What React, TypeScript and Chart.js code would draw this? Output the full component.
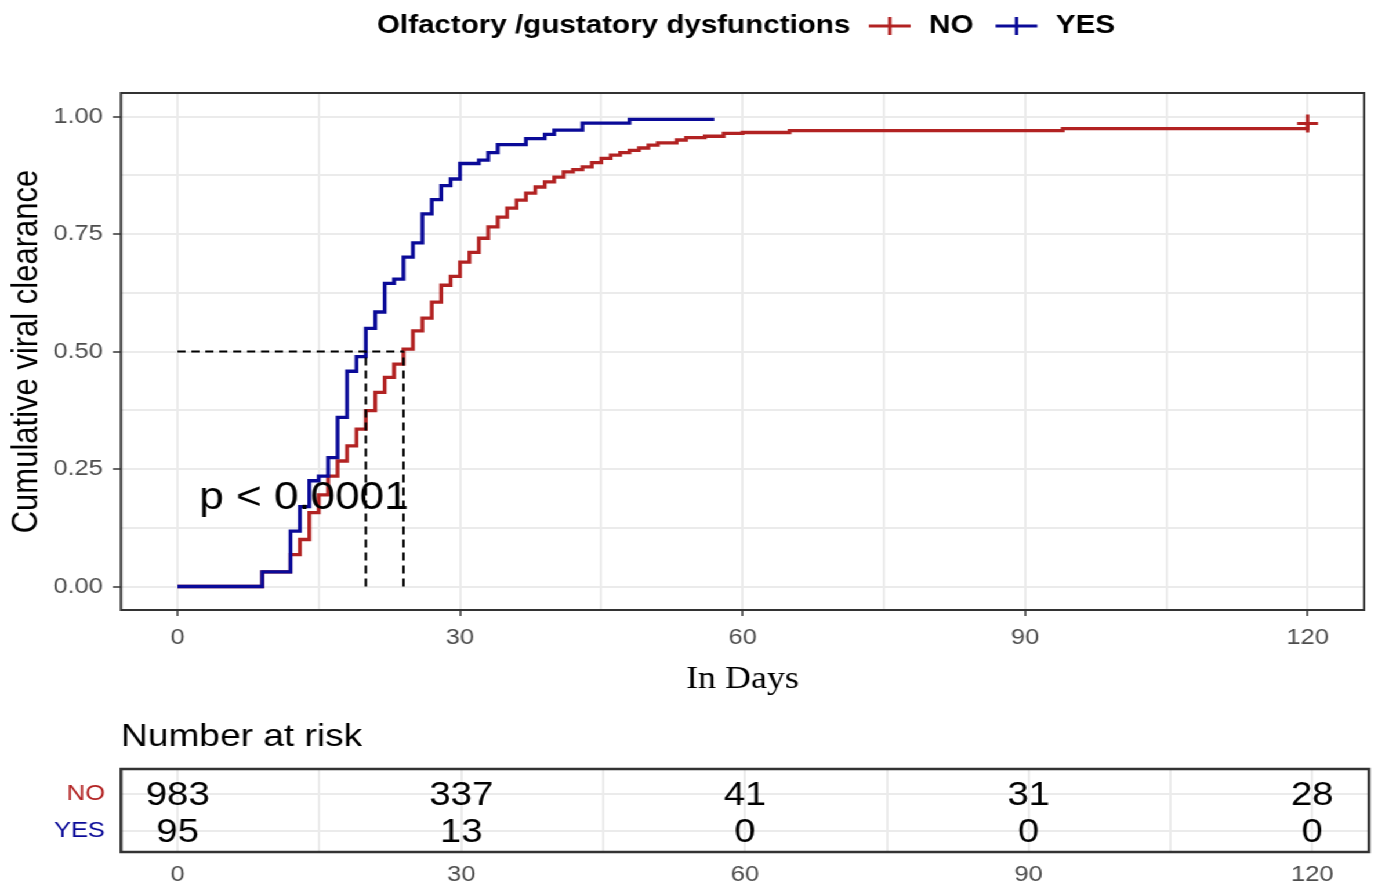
import React, { useEffect, useRef } from 'react';
import { Chart, registerables } from 'chart.js';

Chart.register(...registerables);

// ---------------- data ----------------
const legendTitle = 'Olfactory /gustatory dysfunctions';
const groups = ['NO', 'YES'];

const yesTimes = [0, 9, 12, 13, 14, 15, 16, 17, 18, 19, 20, 21, 22, 23, 24, 25, 26, 27, 28, 29, 30, 32, 33, 34, 37, 39, 40, 43, 48, 57];
const yesClearance = [0, 0.031, 0.118, 0.17, 0.225, 0.235, 0.274, 0.36, 0.458, 0.489, 0.549, 0.584, 0.645, 0.654, 0.701, 0.731, 0.793, 0.823, 0.853, 0.867, 0.9, 0.907, 0.923, 0.94, 0.953, 0.962, 0.971, 0.986, 0.994, 0.994];

const noTimes = [0, 9, 12, 13, 14, 15, 16, 17, 18, 19, 20, 21, 22, 23, 24, 25, 26, 27, 28, 29, 30, 31, 32, 33, 34, 35, 36, 37, 38, 39, 40, 41, 42, 43, 44, 45, 46, 47, 48, 49, 50, 51, 53, 54, 56, 58, 60, 65, 94, 120];
const noClearance = [0, 0.031, 0.068, 0.1, 0.157, 0.195, 0.235, 0.267, 0.299, 0.335, 0.374, 0.413, 0.445, 0.473, 0.505, 0.544, 0.571, 0.605, 0.641, 0.66, 0.69, 0.711, 0.741, 0.765, 0.786, 0.805, 0.822, 0.837, 0.85, 0.861, 0.871, 0.882, 0.887, 0.893, 0.902, 0.911, 0.918, 0.923, 0.928, 0.933, 0.939, 0.944, 0.95, 0.955, 0.958, 0.964, 0.966, 0.97, 0.974, 0.985];

const medianLevel = 0.5;
const medianYes = 20;
const medianNo = 24;

const xTickValues = [0, 30, 60, 90, 120];
const yTickValues = [0, 0.25, 0.5, 0.75, 1];

const riskTimes = [0, 30, 60, 90, 120];
const riskNo = [983, 337, 41, 31, 28];
const riskYes = [95, 13, 0, 0, 0];

const pValueText = 'p < 0.0001';

// ---------------- style ----------------
const RED = '#B22222';
const BLUE = '#0A0A98';
const GRID = '#EBEBEB';
const TICK_TXT = '#4D4D4D';
const SANS = '"Liberation Sans", Arial, sans-serif';
const SERIF = '"Liberation Serif", "Times New Roman", serif';
const PAGE_W = 1378;
const W = 1188;
const S = PAGE_W / W;
const AXIS_W = 104.3;
const RIGHT_PAD = W - 1180.2;

const isMajorX = (v: number) => xTickValues.some((t) => Math.abs(t - v) < 1e-6);
const isMajorY = (v: number) => yTickValues.some((t) => Math.abs(t - v) < 1e-6);
const pts = (t: number[], v: number[]) => t.map((x, i) => ({ x, y: v[i] }));

const mainPlugin = {
  id: 'mainDecor',
  afterDatasetsDraw(chart: any) {
    const { ctx, scales } = chart;
    ctx.save();
    ctx.font = `38px ${SANS}`;
    ctx.fillStyle = '#000';
    ctx.textBaseline = 'middle';
    ctx.textAlign = 'left';
    ctx.fillText(pValueText, scales.x.getPixelForValue(2.3), scales.y.getPixelForValue(0.188));
    ctx.restore();
  },
  afterDraw(chart: any) {
    const { ctx, chartArea } = chart;
    ctx.save();
    ctx.strokeStyle = '#333333';
    ctx.lineWidth = 2;
    ctx.strokeRect(chartArea.left, chartArea.top, chartArea.right - chartArea.left, chartArea.bottom - chartArea.top);

    // legend
    const y = 26;
    let x = 325;
    ctx.textBaseline = 'middle';
    ctx.textAlign = 'left';
    ctx.fillStyle = '#000';
    ctx.font = `bold 25.5px ${SANS}`;
    ctx.fillText(legendTitle, x, y);
    x += ctx.measureText(legendTitle).width + 16;
    const colors = [RED, BLUE];
    groups.forEach((g, i) => {
      ctx.strokeStyle = colors[i];
      ctx.lineWidth = 3;
      ctx.beginPath();
      ctx.moveTo(x, y);
      ctx.lineTo(x + 36, y);
      ctx.moveTo(x + 18, y - 9);
      ctx.lineTo(x + 18, y + 9);
      ctx.stroke();
      x += 36 + 16;
      ctx.fillStyle = '#000';
      ctx.fillText(g, x, y);
      x += ctx.measureText(g).width + 19;
    });
    ctx.restore();
  },
};

const riskPlugin = {
  id: 'riskDecor',
  afterDatasetsDraw(chart: any) {
    const { ctx, chartArea } = chart;
    ctx.save();
    ctx.font = `33px ${SANS}`;
    ctx.fillStyle = '#000';
    ctx.textAlign = 'center';
    ctx.textBaseline = 'middle';
    chart.data.datasets.forEach((ds: any, di: number) => {
      const meta = chart.getDatasetMeta(di);
      meta.data.forEach((el: any, j: number) => {
        ctx.fillText(String(ds.data[j].n), el.x, el.y + 2);
      });
    });
    ctx.strokeStyle = '#333333';
    ctx.lineWidth = 2.5;
    ctx.strokeRect(chartArea.left, chartArea.top, chartArea.right - chartArea.left, chartArea.bottom - chartArea.top);
    ctx.font = `32px ${SANS}`;
    ctx.textAlign = 'left';
    ctx.fillText('Number at risk', chartArea.left, 37);
    ctx.restore();
  },
};

export default function App() {
  const mainRef = useRef<HTMLCanvasElement | null>(null);
  const riskRef = useRef<HTMLCanvasElement | null>(null);

  useEffect(() => {
    const dash = (x1: number, y1: number, x2: number, y2: number, d: number[]) => ({
      label: 'median',
      data: [{ x: x1, y: y1 }, { x: x2, y: y2 }],
      borderColor: '#000',
      borderWidth: 2,
      borderDash: d,
      pointRadius: 0,
      fill: false,
      order: 0,
    });
    const main = new Chart(mainRef.current as HTMLCanvasElement, {
      type: 'line',
      data: {
        datasets: [
          dash(0, medianLevel, Math.max(medianYes, medianNo), medianLevel, [7, 5]),
          dash(medianYes, 0, medianYes, medianLevel, [8, 5]),
          dash(medianNo, 0, medianNo, medianLevel, [8, 5]),
          {
            label: 'YES',
            data: pts(yesTimes, yesClearance),
            stepped: true,
            borderColor: BLUE,
            borderWidth: 3.3,
            pointRadius: 0,
            fill: false,
            order: 1,
          },
          {
            label: 'NO',
            data: pts(noTimes, noClearance),
            stepped: true,
            borderColor: RED,
            borderWidth: 3.3,
            pointStyle: 'cross',
            pointRadius: (c: any) => (c.dataIndex === noTimes.length - 1 ? 9 : 0),
            pointBorderColor: RED,
            pointBorderWidth: 3,
            fill: false,
            order: 2,
          },
        ] as any,
      },
      options: {
        responsive: false,
        animation: false,
        devicePixelRatio: 1,
        layout: { padding: { top: 93, right: RIGHT_PAD, left: 0, bottom: 0 } },
        plugins: { legend: { display: false }, tooltip: { enabled: false }, title: { display: false } },
        events: [],
        scales: {
          x: {
            type: 'linear',
            min: -6,
            max: 126,
            border: { display: false },
            grid: {
              color: GRID,
              lineWidth: 2,
              tickLength: 6,
              tickWidth: 1.5,
              tickColor: (c: any) => (c.tick && isMajorX(c.tick.value) ? '#333333' : 'rgba(0,0,0,0)'),
            },
            ticks: {
              stepSize: 15,
              includeBounds: false,
              autoSkip: false,
              maxRotation: 0,
              padding: 9,
              color: TICK_TXT,
              font: { family: SANS, size: 22 },
              callback: (v: any) => (isMajorX(Number(v)) ? String(v) : ''),
            },
            title: {
              display: true,
              text: 'In Days',
              color: '#000',
              font: { family: SERIF, size: 31 },
              padding: { top: 0, bottom: 2 },
            },
            afterFit: (s: any) => {
              s.height = 90;
            },
          },
          y: {
            type: 'linear',
            min: -0.05,
            max: 1.05,
            border: { display: false },
            grid: {
              color: GRID,
              lineWidth: 2,
              tickLength: 7,
              tickWidth: 1.5,
              tickColor: (c: any) => (c.tick && isMajorY(c.tick.value) ? '#333333' : 'rgba(0,0,0,0)'),
            },
            ticks: {
              stepSize: 0.125,
              includeBounds: false,
              autoSkip: false,
              padding: 8.5,
              color: TICK_TXT,
              font: { family: SANS, size: 22 },
              callback: (v: any) => (isMajorY(Number(v)) ? Number(v).toFixed(2) : ''),
            },
            title: {
              display: true,
              text: 'Cumulative viral clearance',
              color: '#000',
              font: { family: SANS, size: 31 },
              padding: { top: 5, bottom: 0 },
            },
            afterFit: (s: any) => {
              s.width = AXIS_W;
            },
          },
        },
      } as any,
      plugins: [mainPlugin],
    });

    const counts = [riskNo, riskYes];
    const groupColors = [RED, BLUE];
    const risk = new Chart(riskRef.current as HTMLCanvasElement, {
      type: 'scatter',
      data: {
        datasets: groups.map((g, gi) => ({
          label: g,
          data: riskTimes.map((t, j) => ({ x: t, y: gi + 1, n: counts[gi][j] })),
          pointRadius: 0,
          showLine: false,
        })) as any,
      },
      options: {
        responsive: false,
        animation: false,
        devicePixelRatio: 1,
        layout: { padding: { top: 69, right: RIGHT_PAD, left: 0, bottom: 0 } },
        plugins: { legend: { display: false }, tooltip: { enabled: false } },
        events: [],
        scales: {
          x: {
            type: 'linear',
            min: -6,
            max: 126,
            border: { display: false },
            grid: { color: GRID, lineWidth: 2, drawTicks: false },
            ticks: {
              stepSize: 15,
              includeBounds: false,
              autoSkip: false,
              maxRotation: 0,
              padding: 10,
              color: TICK_TXT,
              font: { family: SANS, size: 22 },
              callback: (v: any) => (isMajorX(Number(v)) ? String(v) : ''),
            },
            afterFit: (s: any) => {
              s.height = 36;
            },
          },
          y: {
            type: 'linear',
            min: 0.35,
            max: 2.55,
            reverse: true,
            border: { display: false },
            grid: { color: GRID, lineWidth: 2, drawTicks: false },
            afterBuildTicks: (s: any) => {
              s.ticks = groups.map((_, i) => ({ value: i + 1 }));
            },
            ticks: {
              autoSkip: false,
              padding: 13.8,
              color: (c: any) => groupColors[c.index] || '#000',
              font: { family: SANS, size: 22 },
              callback: (v: any) => groups[Math.round(Number(v)) - 1] || '',
            },
            afterFit: (s: any) => {
              s.width = AXIS_W;
            },
          },
        },
      } as any,
      plugins: [riskPlugin],
    });

    return () => {
      main.destroy();
      risk.destroy();
    };
  }, []);

  return (
    <div
      style={{
        position: 'fixed',
        left: 0,
        top: 0,
        width: W,
        height: 888,
        background: '#fff',
        transform: `scaleX(${S})`,
        transformOrigin: '0 0',
      }}
    >
      <canvas ref={mainRef} width={W} height={700} style={{ position: 'absolute', left: 0, top: 0 }} />
      <canvas ref={riskRef} width={W} height={188} style={{ position: 'absolute', left: 0, top: 700 }} />
    </div>
  );
}
